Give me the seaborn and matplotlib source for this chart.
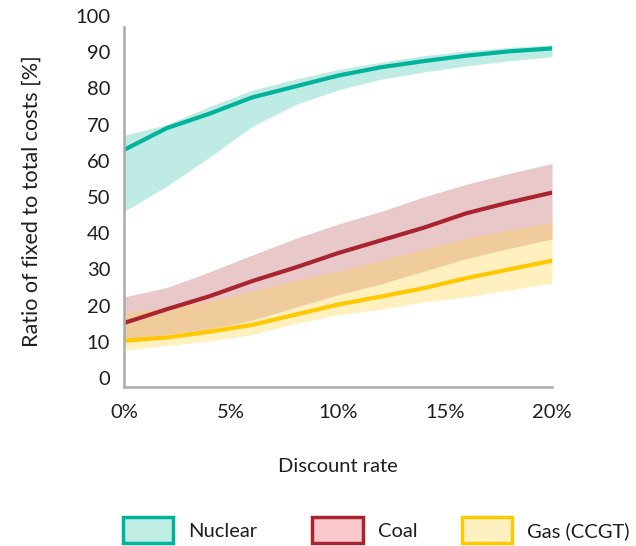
import numpy as np
import pandas as pd
import matplotlib
matplotlib.use("Agg")
import matplotlib.pyplot as plt
from matplotlib.patches import Patch
import seaborn as sns

# discount rate [%]
rate = [0, 2, 4, 6, 8, 10, 12, 14, 16, 18, 20]

nuclear = [63, 69, 73, 77.5, 80.5, 83.5, 85.8, 87.5, 89, 90.2, 91]
nuclear_hi = [67, 70, 75, 79.5, 82.5, 85.2, 87.2, 89, 90.3, 91.3, 92]
nuclear_lo = [46, 53, 61, 69.5, 75.5, 79.5, 82.5, 84.5, 86.2, 87.6, 88.7]

coal = [15.2, 19, 22.6, 26.8, 30.5, 34.5, 38, 41.5, 45.5, 48.5, 51.2]
coal_hi = [22.4, 25, 29.3, 34, 38.5, 42.5, 46, 50, 53.5, 56.5, 59.2]
coal_lo = [10.8, 12, 13.5, 16, 19.5, 23, 26, 29.5, 33, 35.8, 38.4]

gas = [10.3, 11.2, 12.8, 14.7, 17.5, 20.3, 22.5, 24.8, 27.6, 30, 32.4]
gas_hi = [18.2, 19.5, 21.3, 24, 27, 29.5, 32.5, 35.5, 38.6, 41, 43]
gas_lo = [7.7, 9, 10.2, 12, 15, 17.5, 19, 21, 22.4, 24.3, 26.2]

xticks = [0, 5, 10, 15, 20]
xticklabels = ["0%", "5%", "10%", "15%", "20%"]
yticks = list(range(0, 101, 10))

sns.set_theme(style="white")
plt.rcParams["font.family"] = ["Lato", "DejaVu Sans"]

teal = "#00b39a"
red = "#a8242e"
yellow = "#ffc800"
txt = "#1e1e1e"

df = pd.DataFrame({"rate": rate, "Nuclear": nuclear, "Coal": coal, "Gas": gas})

fig = plt.figure(figsize=(6.36, 5.46), dpi=100)
ax = fig.add_axes([0.195, 0.291, 0.673, 0.680])

# nuclear
ax.fill_between(rate, nuclear_lo, nuclear_hi, color=teal, alpha=0.25, lw=0)
sns.lineplot(data=df, x="rate", y="Nuclear", color=teal, lw=3, ax=ax)
# coal, then gas drawn over it
ax.fill_between(rate, coal_lo, coal_hi, color=red, alpha=0.25, lw=0)
sns.lineplot(data=df, x="rate", y="Coal", color=red, lw=3, ax=ax)
ax.fill_between(rate, gas_lo, gas_hi, color="#ffd54a", alpha=0.35, lw=0)
sns.lineplot(data=df, x="rate", y="Gas", color=yellow, lw=3, ax=ax)

ax.set_xlim(0, 20)
ax.set_ylim(-2.5, 100)
ax.set_xticks(xticks)
ax.set_xticklabels(xticklabels)
ax.set_yticks(yticks)
ax.tick_params(axis="both", length=0, labelsize=14.5, colors=txt)
ax.tick_params(axis="x", pad=12)
ax.tick_params(axis="y", pad=10)

for s in ["top", "right"]:
    ax.spines[s].set_visible(False)
for s in ["left", "bottom"]:
    ax.spines[s].set_color("#aaaaac")
    ax.spines[s].set_linewidth(1.8)
ax.spines["left"].set_bounds(-2.5, 97)

ax.set_xlabel("Discount rate", fontsize=14.5, color=txt, labelpad=27)
ax.set_ylabel("Ratio of fixed to total costs [%]", fontsize=15.5, color=txt, labelpad=24)

entries = [
    ("Nuclear", "#bfece3", teal, 0.193),
    ("Coal", "#f9c8cc", red, 0.491),
    ("Gas (CCGT)", "#fff0c0", yellow, 0.726),
]
for label, fc, ec, xpos in entries:
    fig.legend(handles=[Patch(facecolor=fc, edgecolor=ec, lw=2.5, label=label)],
               loc="center left", bbox_to_anchor=(xpos, 0.029), frameon=False,
               fontsize=14.5, handlelength=2.5, handleheight=1.6,
               handletextpad=0.75, borderpad=0, borderaxespad=0,
               labelcolor=txt)

fig.savefig("out.png", dpi=100)
